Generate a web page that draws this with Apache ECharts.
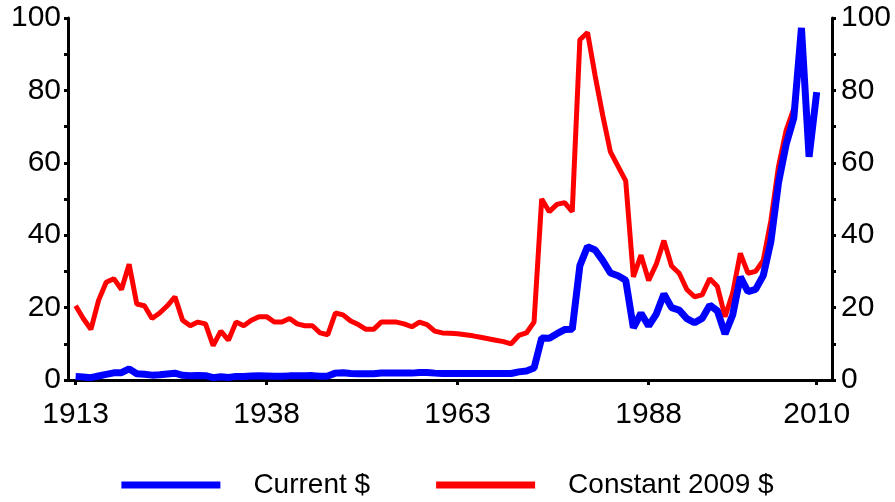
<!DOCTYPE html>
<html>
<head>
<meta charset="utf-8">
<script src="https://cdn.jsdelivr.net/npm/echarts@6/dist/echarts.min.js"></script>
<style>
  html, body { margin: 0; padding: 0; background: #fff; }
  #chart { width: 895px; height: 502px; }
</style>
</head>
<body>
<div id="chart"></div>
<script>
// annual oil price, $ per barrel
var firstYear = 1913
var lastYear = 2010
var yearTicks = [1913, 1938, 1963, 1988, 2010]

var currentPrice = [
  0.95, 0.81, 0.64, 1.10, 1.56, 1.98, 2.01, 3.07, 1.73, 1.61,   // 1913-1922
  1.34, 1.43, 1.68, 1.88, 1.30, 1.17, 1.27, 1.19, 0.65, 0.87,   // 1923-1932
  0.67, 1.00, 0.97, 1.09, 1.18, 1.13, 1.02, 1.02, 1.14, 1.19,   // 1933-1942
  1.20, 1.21, 1.05, 1.12, 1.90, 1.99, 1.78, 1.71, 1.71, 1.71,   // 1943-1952
  1.93, 1.93, 1.93, 1.93, 1.90, 2.08, 2.08, 1.90, 1.80, 1.80,   // 1953-1962
  1.80, 1.80, 1.80, 1.80, 1.80, 1.80, 1.80, 1.80, 2.24, 2.48,   // 1963-1972
  3.29, 11.58, 11.53, 12.80, 13.92, 14.02, 31.61, 36.83, 35.93, 32.97, // 1973-1982
  29.55, 28.78, 27.56, 14.43, 18.44, 14.92, 18.23, 23.73, 20.00, 19.32, // 1983-1992
  16.97, 15.82, 17.02, 20.67, 19.09, 12.72, 17.97, 28.50, 24.44, 25.02, // 1993-2002
  28.83, 38.27, 54.52, 65.14, 72.39, 97.26, 61.67, 79.50                // 2003-2010
]

var constantPrice = [
  20.5, 17, 14, 22, 27, 28, 25, 32, 21, 20.5,                   // 1913-1922
  17, 18.5, 20.5, 23, 16.5, 15, 16, 15.5, 9.5, 13.5,            // 1923-1932
  11, 16, 15, 16.5, 17.5, 17.5, 16, 16, 17, 15.5,               // 1933-1942
  15, 15, 13, 12.5, 18.5, 18, 16.3, 15.3, 14, 14,               // 1943-1952
  16, 16, 16, 15.5, 14.7, 16, 15.3, 13.5, 13, 12.9,             // 1953-1962
  12.8, 12.5, 12.2, 11.8, 11.4, 11, 10.6, 10, 12.3, 13,         // 1963-1972
  16, 50, 46.5, 48.5, 49, 46.5, 94, 96, 84, 73,                 // 1973-1982
  63, 59, 55, 28.5, 34.5, 27.5, 32, 38.5, 31.5, 29.5,           // 1983-1992
  25, 23, 23.5, 28, 25.8, 17.5, 24, 35, 29.5, 30,               // 1993-2002
  33, 44, 59, 69, 75                                            // 2003-2007
]

var years = []
for (var y = firstYear; y <= lastYear; y++) years.push(y)

function pairs(vals) {
  return vals.map(function (v, i) { return [years[i], v] })
}

var font = 'Liberation Sans, Arial, sans-serif'

function yAxis(pos, margin) {
  return {
    type: 'value',
    position: pos,
    min: 0,
    max: 100,
    interval: 20,
    axisLine: { show: true, lineStyle: { color: '#000', width: 3 } },
    axisTick: { show: true, length: 4, lineStyle: { color: '#000', width: 3 } },
    minorTick: { show: true, splitNumber: 2, length: 4, lineStyle: { color: '#000', width: 3 } },
    splitLine: { show: false },
    axisLabel: { fontSize: 30, color: '#000', fontFamily: font, margin: margin }
  }
}

var chart = echarts.init(document.getElementById('chart'))
chart.setOption({
  animation: false,
  backgroundColor: '#fff',
  grid: { left: 68, right: 63, top: 18, bottom: 122, containLabel: false, outerBoundsMode: 'none' },
  legend: {
    top: 466,
    left: 'center',
    itemWidth: 99,
    itemHeight: 7,
    itemGap: 66,
    data: [{ name: 'Current $', icon: 'rect' }, { name: 'Constant 2009 $', icon: 'rect' }],
    textStyle: { fontSize: 28, color: '#000', fontFamily: font, padding: [0, 0, 0, 28] }
  },
  xAxis: {
    type: 'value',
    min: 1912,
    max: 2012,
    axisLine: { show: true, onZero: false, lineStyle: { color: '#000', width: 3 } },
    axisTick: { show: true, customValues: yearTicks, length: 5, lineStyle: { color: '#000', width: 3 } },
    splitLine: { show: false },
    axisLabel: {
      customValues: yearTicks,
      fontSize: 30,
      color: '#000',
      fontFamily: font,
      margin: 20,
      formatter: function (v) { return String(v) }
    }
  },
  yAxis: [yAxis('left', 7), yAxis('right', 9)],
  series: [
    {
      name: 'Constant 2009 $',
      type: 'line',
      data: pairs(constantPrice),
      showSymbol: false,
      color: '#ff0000',
      lineStyle: { color: '#ff0000', width: 5 },
      z: 2
    },
    {
      name: 'Current $',
      type: 'line',
      data: pairs(currentPrice),
      showSymbol: false,
      color: '#0000ff',
      lineStyle: { color: '#0000ff', width: 7 },
      z: 3
    }
  ]
})
</script>
</body>
</html>
